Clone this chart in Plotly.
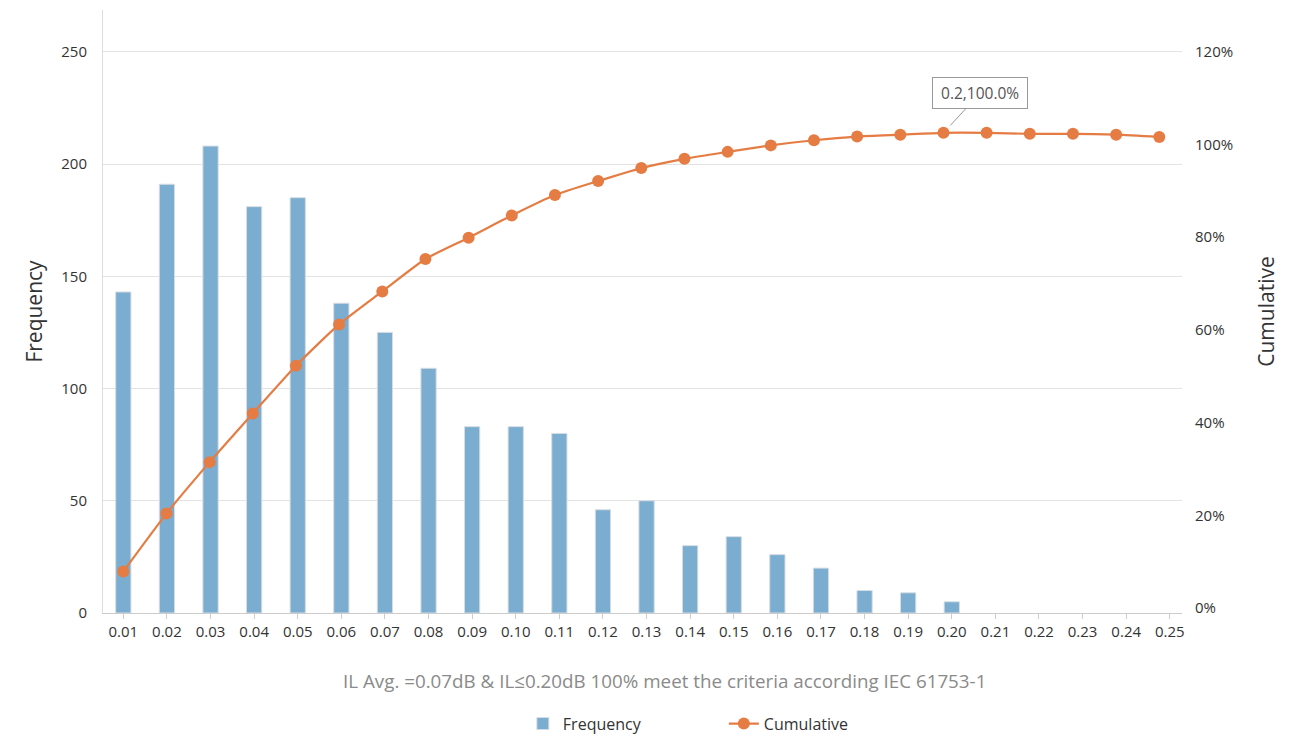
import plotly.graph_objects as go

categories = ["0.01", "0.02", "0.03", "0.04", "0.05", "0.06", "0.07", "0.08", "0.09", "0.10",
              "0.11", "0.12", "0.13", "0.14", "0.15", "0.16", "0.17", "0.18", "0.19", "0.20",
              "0.21", "0.22", "0.23", "0.24", "0.25"]
il_values = [0.01, 0.02, 0.03, 0.04, 0.05, 0.06, 0.07, 0.08, 0.09, 0.10,
             0.11, 0.12, 0.13, 0.14, 0.15, 0.16, 0.17, 0.18, 0.19, 0.20,
             0.21, 0.22, 0.23, 0.24, 0.25]
frequency = [143, 191, 208, 181, 185, 138, 125, 109, 83, 83,
             80, 46, 50, 30, 34, 26, 20, 10, 9, 5,
             0, 0, 0, 0, 0]
cumulative = [7.9, 20.4, 31.5, 42.0, 52.3, 61.2, 68.3, 75.3, 79.9, 84.7,
              89.1, 92.1, 94.9, 96.9, 98.4, 99.8, 100.9, 101.7, 102.1, 102.5,
              102.5, 102.3, 102.3, 102.1, 101.6]
right_ticks = [0, 20, 40, 60, 80, 100, 120]
right_labels = ["0%", "20%", "40%", "60%", "80%", "100%", "120%"]
subtitle = "IL Avg. =0.07dB &amp; IL≤0.20dB 100% meet the criteria according IEC 61753-1"

FONT = "Open Sans"
BAR_COLOR = "#7aadd0"
LINE_COLOR = "#e57c43"

# no outline on empty bins
outline_widths = [1 if v > 0 else 0 for v in frequency]

fig = go.Figure()
fig.add_trace(go.Bar(
    x=categories, y=frequency, name="Frequency",
    marker=dict(color=BAR_COLOR, line=dict(color="#d8dde2", width=outline_widths)),
    width=0.35, xaxis="x", yaxis="y",
))
fig.add_trace(go.Scatter(
    x=il_values, y=cumulative, name="Cumulative", mode="lines+markers",
    line=dict(color=LINE_COLOR, width=2.2, shape="spline", smoothing=0.6),
    marker=dict(color=LINE_COLOR, size=12),
    xaxis="x2", yaxis="y2",
))

fig.add_annotation(
    x=il_values[19], y=cumulative[19], xref="x2", yref="y2",
    text="&nbsp;0.2,100.0%&nbsp;", showarrow=True, arrowhead=0, arrowwidth=1,
    arrowcolor="#999999", ax=37, ay=-40, standoff=10,
    bordercolor="#999999", borderwidth=1, borderpad=4, bgcolor="white",
    font=dict(family=FONT, size=15.5, color="#555555"),
)
fig.add_annotation(
    x=0.5200, y=-0.1122, xref="paper", yref="paper", text=subtitle,
    showarrow=False, xanchor="center", yanchor="middle",
    font=dict(family=FONT, size=18.8, color="#8a8a8a"),
)

fig.update_layout(
    width=1316, height=738,
    margin=dict(l=95, r=142, t=2, b=132.7),
    paper_bgcolor="white", plot_bgcolor="white",
    font=dict(family=FONT, color="#333333"),
    showlegend=True,
    legend=dict(orientation="h", x=0.5754, xanchor="center", y=-0.1835, yanchor="middle",
                font=dict(family=FONT, size=16, color="#333333"),
                entrywidth=156, tracegroupgap=0),
    xaxis=dict(
        type="category", range=[-0.466, 24.28],
        showline=True, linecolor="#cccccc", linewidth=1,
        ticks="outside", ticklen=5, tickcolor="#cccccc",
        showgrid=False, tickfont=dict(family=FONT, size=15, color="#333333"),
    ),
    xaxis2=dict(
        type="linear", overlaying="x", range=[0.0053, 0.25526],
        visible=False, showgrid=False, zeroline=False,
    ),
    yaxis=dict(
        range=[0, 268.6], dtick=50, tick0=0,
        showgrid=True, gridcolor="#e3e3e3", gridwidth=1,
        showline=True, linecolor="#dddddd", zeroline=False,
        ticks="", ticklabelstandoff=12,
        tickfont=dict(family=FONT, size=15, color="#333333"),
        title=dict(text="Frequency", standoff=12,
                   font=dict(family=FONT, size=21, color="#333333")),
    ),
    yaxis2=dict(
        overlaying="y", side="right", anchor="x",
        range=[-1.03, 128.99], tickvals=right_ticks, ticktext=right_labels,
        showgrid=False, zeroline=False, showline=False, ticks="",
        ticklabelstandoff=12,
        tickfont=dict(family=FONT, size=15, color="#333333"),
        title=dict(text="Cumulative", standoff=27,
                   font=dict(family=FONT, size=21, color="#333333")),
    ),
)

fig.write_html("out.html")
